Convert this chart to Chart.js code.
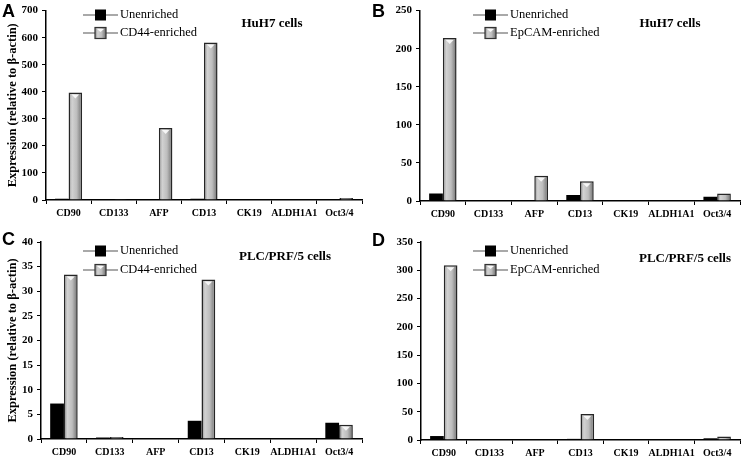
<!DOCTYPE html>
<html>
<head>
<meta charset="utf-8">
<script src="https://cdn.jsdelivr.net/npm/chart.js@4/dist/chart.umd.min.js"></script>
<style>
  html, body { margin: 0; padding: 0; background: #fff; }
  #wrap { position: relative; width: 741px; height: 459px; background: #fff; }
  canvas { position: absolute; }
</style>
</head>
<body>
<div id="wrap">
  <canvas id="chartA" width="370" height="229" style="left:0;top:0"></canvas>
  <canvas id="chartB" width="371" height="229" style="left:370px;top:0"></canvas>
  <canvas id="chartC" width="370" height="230" style="left:0;top:229px"></canvas>
  <canvas id="chartD" width="371" height="230" style="left:370px;top:229px"></canvas>
</div>
<script>
// markers along the x axis
const categories = ['CD90', 'CD133', 'AFP', 'CD13', 'CK19', 'ALDH1A1', 'Oct3/4'];

// HuH7, CD44 sort (panel A)
const huh7UnenrichedA = [5, 1, 1, 5, 1, 1, 1];
const huh7CD44 = [397, 3, 266, 582, 2, 2, 7];
// HuH7, EpCAM sort (panel B)
const huh7UnenrichedB = [10, 1, 1, 8, 1, 1, 5.5];
const huh7EpCAM = [214, 0, 33, 26, 0, 0, 10];
// PLC/PRF/5, CD44 sort (panel C)
const plcUnenrichedC = [7.2, 0.3, 0.1, 3.7, 0.1, 0.1, 3.3];
const plcCD44 = [33.4, 0.4, 0.1, 32.4, 0.1, 0.1, 2.9];
// PLC/PRF/5, EpCAM sort (panel D)
const plcUnenrichedD = [7, 1, 1, 2, 1, 1, 3];
const plcEpCAM = [309, 0, 0, 46, 0, 0, 6];

// y axis ranges
const yMaxA = 700, yStepA = 100;
const yMaxB = 250, yStepB = 50;
const yMaxC = 40, yStepC = 5;
const yMaxD = 350, yStepD = 50;

const serif = '"Liberation Serif", "Times New Roman", serif';
const catPct = 0.6;

function grayGradient(ctx, x0, x1) {
  const g = ctx.createLinearGradient(x0, 0, x1, 0);
  g.addColorStop(0, '#8c8c8c');
  g.addColorStop(0.25, '#d2d2d2');
  g.addColorStop(0.6, '#bdbdbd');
  g.addColorStop(1, '#6e6e6e');
  return g;
}

// gradient fill of the enriched bars, placed on each bar
function enrichedFill(context) {
  const chart = context.chart;
  const xs = chart.scales.x;
  if (!xs || !xs.width) return '#b4b4b4';
  const cw = xs.width / categories.length;
  const c = xs.getPixelForValue(context.dataIndex);
  return grayGradient(chart.ctx, c, c + cw * catPct / 2);
}

// panel letter, cell line title, legend and bar highlights
const deco = {
  id: 'deco',
  afterDatasetsDraw(chart) {
    const {ctx} = chart;
    const meta = chart.getDatasetMeta(1);
    ctx.save();
    meta.data.forEach(bar => {
      const h = bar.base - bar.y;
      if (h < 8) return;
      const w = bar.width;
      ctx.fillStyle = 'rgba(255,255,255,0.85)';
      ctx.beginPath();
      ctx.moveTo(bar.x - w / 2 + 3, bar.y + 2);
      ctx.lineTo(bar.x + w / 2 - 3, bar.y + 2);
      ctx.lineTo(bar.x, bar.y + 6);
      ctx.closePath();
      ctx.fill();
    });
    ctx.restore();
  },
  afterDraw(chart, args, o) {
    const {ctx} = chart;
    ctx.save();
    ctx.fillStyle = '#000';
    ctx.textBaseline = 'middle';
    ctx.textAlign = 'left';
    ctx.font = 'bold 18px "Liberation Sans", Arial, sans-serif';
    ctx.fillText(o.letter, o.letterX, o.letterY);

    ctx.font = 'bold 13px ' + serif;
    ctx.textAlign = 'center';
    ctx.fillText(o.title, o.titleX, o.titleY);

    ctx.textAlign = 'left';
    ctx.font = '12.5px ' + serif;
    chart.data.datasets.forEach((ds, i) => {
      const x = o.legendX, y = o.legendY[i];
      ctx.strokeStyle = '#555';
      ctx.lineWidth = 1.2;
      ctx.beginPath();
      ctx.moveTo(x, y);
      ctx.lineTo(x + 35, y);
      ctx.stroke();
      if (i === 0) {
        ctx.fillStyle = '#000';
        ctx.fillRect(x + 12, y - 5.5, 11, 11);
      } else {
        ctx.fillStyle = grayGradient(ctx, x + 12, x + 23);
        ctx.fillRect(x + 12, y - 5.5, 11, 11);
        ctx.strokeStyle = '#333';
        ctx.strokeRect(x + 12, y - 5.5, 11, 11);
        ctx.fillStyle = 'rgba(255,255,255,0.9)';
        ctx.beginPath();
        ctx.moveTo(x + 14, y - 4);
        ctx.lineTo(x + 21, y - 4);
        ctx.lineTo(x + 17.5, y - 1);
        ctx.closePath();
        ctx.fill();
      }
      ctx.fillStyle = '#000';
      ctx.fillText(ds.label, x + 37, y);
    });
    ctx.restore();
  }
};

function makePanel(id, unenriched, enriched, enrichedLabel, yMax, yStep, p) {
  return new Chart(document.getElementById(id), {
    type: 'bar',
    data: {
      labels: categories,
      datasets: [{
        label: 'Unenriched',
        data: unenriched,
        backgroundColor: '#000',
        borderWidth: 0,
        categoryPercentage: catPct,
        barPercentage: 1
      }, {
        label: enrichedLabel,
        data: enriched,
        backgroundColor: enrichedFill,
        borderColor: '#262626',
        borderWidth: 1.5,
        categoryPercentage: catPct,
        barPercentage: 1
      }]
    },
    plugins: [deco],
    options: {
      responsive: false,
      animation: false,
      devicePixelRatio: 1,
      layout: { padding: { top: p.top, right: p.right, left: 0, bottom: 0 } },
      plugins: {
        legend: { display: false },
        tooltip: { enabled: false },
        deco: p.deco
      },
      scales: {
        x: {
          ticks: {
            color: '#000',
            autoSkip: false,
            maxRotation: 0,
            padding: 3,
            font: { family: serif, size: 10, weight: 'bold' }
          },
          grid: { drawOnChartArea: false, tickLength: 4, color: '#000', offset: true },
          border: { color: '#000', width: 1.5 },
          afterFit(scale) { scale.height = p.xh; }
        },
        y: {
          min: 0,
          max: yMax,
          ticks: {
            stepSize: yStep,
            color: '#000',
            padding: 4,
            font: { family: serif, size: 11, weight: 'bold' }
          },
          grid: { drawOnChartArea: false, tickLength: 4, color: '#000' },
          border: { color: '#000', width: 1.5 },
          title: {
            display: p.yTitle,
            text: 'Expression (relative to β-actin)',
            color: '#000',
            padding: { top: 5, bottom: 0 },
            font: { family: serif, size: 12.5, weight: 'bold' }
          },
          afterFit(scale) { scale.width = p.yw; }
        }
      }
    }
  });
}

makePanel('chartA', huh7UnenrichedA, huh7CD44, 'CD44-enriched', yMaxA, yStepA, {
  top: 5, right: 8, yw: 46, xh: 29, yTitle: true,
  deco: { letter: 'A', letterX: 2, letterY: 12, title: 'HuH7 cells', titleX: 272, titleY: 24,
          legendX: 83, legendY: [15, 33] }
});
makePanel('chartB', huh7UnenrichedB, huh7EpCAM, 'EpCAM-enriched', yMaxB, yStepB, {
  top: 5, right: 1, yw: 50, xh: 28, yTitle: false,
  deco: { letter: 'B', letterX: 2, letterY: 12, title: 'HuH7 cells', titleX: 300, titleY: 24,
          legendX: 103, legendY: [15, 33] }
});
makePanel('chartC', plcUnenrichedC, plcCD44, 'CD44-enriched', yMaxC, yStepC, {
  top: 13, right: 8, yw: 41, xh: 20, yTitle: true,
  deco: { letter: 'C', letterX: 2, letterY: 11, title: 'PLC/PRF/5 cells', titleX: 285, titleY: 28,
          legendX: 83, legendY: [22, 41] }
});
makePanel('chartD', plcUnenrichedD, plcEpCAM, 'EpCAM-enriched', yMaxD, yStepD, {
  top: 13, right: 1, yw: 51, xh: 19, yTitle: false,
  deco: { letter: 'D', letterX: 2, letterY: 12, title: 'PLC/PRF/5 cells', titleX: 315, titleY: 30,
          legendX: 103, legendY: [22, 41] }
});
</script>
</body>
</html>
